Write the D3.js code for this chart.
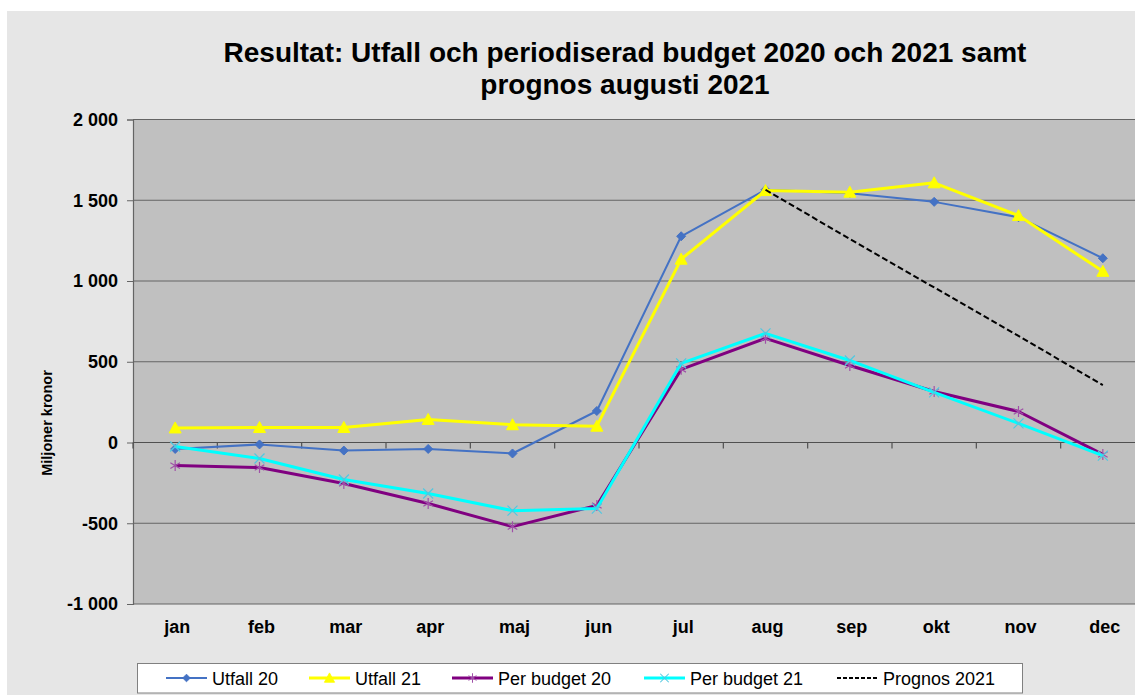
<!DOCTYPE html>
<html>
<head>
    <meta charset="utf-8">
    <title>Resultat: Utfall och periodiserad budget</title>
    <script src="https://d3js.org/d3.v7.min.js"></script>
    <style>
        body { margin: 0; background: #ffffff; }
        svg { display: block; font-family: "Liberation Sans", Arial, sans-serif; }
        .chart-title { font-size: 28px; font-weight: bold; text-anchor: middle; fill: #000; }
        .tick-label { font-size: 18px; font-weight: bold; fill: #000; }
        .axis-title { font-size: 14.5px; font-weight: bold; text-anchor: middle; fill: #000; }
        .legend-text { font-size: 18px; fill: #000; }
    </style>
</head>
<body>
<div id="chart"></div>
<script>
    // Data (miljoner kronor)
    const months = ["jan", "feb", "mar", "apr", "maj", "jun", "jul", "aug", "sep", "okt", "nov", "dec"];
    const utfall20 = [-40, -12, -50, -40, -68, 195, 1277, 1565, 1544, 1490, 1395, 1141];
    const utfall21 = [90, 93, 93, 143, 110, 101, 1135, 1560, 1550, 1608, 1405, 1060];
    const perBudget20 = [-143, -155, -254, -378, -521, -390, 453, 645, 477, 316, 192, -74];
    const perBudget21 = [-25, -99, -229, -316, -422, -409, 490, 676, 508, 310, 118, -81];
    const prognos21 = [null, null, null, null, null, null, null, 1565, 1260, 960, 660, 355];

    const yTicks = [-1000, -500, 0, 500, 1000, 1500, 2000];
    const yTickLabels = ["-1 000", "-500", "0", "500", "1 000", "1 500", "2 000"];

    const seriesNames = ["Utfall 20", "Utfall 21", "Per budget 20", "Per budget 21", "Prognos 2021"];

    const W = 1135, H = 695;
    const plot = { left: 133, right: 1145, top: 119.5, bottom: 604 };

    const svg = d3.select("#chart").append("svg")
        .attr("width", W)
        .attr("height", H);

    // bakgrund
    svg.append("rect").attr("x", 7).attr("y", 11).attr("width", W - 7).attr("height", H - 11)
        .attr("fill", "#e6e6e6");

    const x = d3.scaleBand().domain(months).range([plot.left, plot.right]);
    const y = d3.scaleLinear().domain([-1000, 2000]).range([plot.bottom, plot.top]);

    // ritytan
    svg.append("rect")
        .attr("x", plot.left).attr("y", plot.top)
        .attr("width", plot.right - plot.left).attr("height", plot.bottom - plot.top)
        .attr("fill", "#c0c0c0");

    // stödlinjer
    svg.append("g").selectAll("line").data(yTicks).join("line")
        .attr("x1", plot.left).attr("x2", plot.right)
        .attr("y1", d => y(d)).attr("y2", d => y(d))
        .attr("stroke", "#646464").attr("stroke-width", 1.2);

    // y-axel
    const yAxis = svg.append("g")
        .attr("transform", `translate(${plot.left},0)`)
        .call(d3.axisLeft(y).tickValues(yTicks).tickSize(6).tickPadding(9)
            .tickFormat((d, i) => yTickLabels[i]));
    yAxis.select(".domain").attr("stroke", "#646464").attr("stroke-width", 1.2);
    yAxis.selectAll(".tick line").attr("stroke", "#646464");
    yAxis.selectAll(".tick text").attr("class", "tick-label").attr("font-family", null).attr("font-size", null);

    // x-axel vid noll
    const xAxisY = y(0);
    svg.append("g").selectAll("line").data(months.concat(["_end"])).join("line")
        .attr("x1", (d, i) => plot.left + i * x.bandwidth())
        .attr("x2", (d, i) => plot.left + i * x.bandwidth())
        .attr("y1", xAxisY).attr("y2", xAxisY + 6)
        .attr("stroke", "#505050").attr("stroke-width", 1.2);
    svg.append("line")
        .attr("x1", plot.left).attr("x2", plot.right)
        .attr("y1", xAxisY).attr("y2", xAxisY)
        .attr("stroke", "#505050").attr("stroke-width", 1.2);

    svg.append("g").selectAll("text").data(months).join("text")
        .attr("class", "tick-label")
        .attr("x", d => x(d) + x.bandwidth() / 2 + 2)
        .attr("y", 633)
        .attr("text-anchor", "middle")
        .text(d => d);

    // axeltitel
    svg.append("text")
        .attr("class", "axis-title")
        .attr("transform", "translate(52,423) rotate(-90)")
        .text("Miljoner kronor");

    // titel
    svg.append("text").attr("class", "chart-title").attr("x", 625).attr("y", 62)
        .text("Resultat: Utfall och periodiserad budget 2020 och 2021 samt");
    svg.append("text").attr("class", "chart-title").attr("x", 625).attr("y", 94)
        .text("prognos augusti 2021");

    // markörer
    const markers = {
        diamond: "M0,-4.5L4.5,0L0,4.5L-4.5,0Z",
        triangle: "M0,-6L6,5L-6,5Z",
        star: "M0,-5.5L0,5.5M-4.8,-2.8L4.8,2.8M-4.8,2.8L4.8,-2.8",
        cross: "M-5,-5L5,5M-5,5L5,-5"
    };

    const series = [
        { name: seriesNames[0], values: utfall20, color: "#4472c4", width: 2, marker: "diamond", mFill: "#4472c4", mStroke: "#4472c4", mWidth: 1 },
        { name: seriesNames[1], values: utfall21, color: "#ffff00", width: 3, marker: "triangle", mFill: "#ffff00", mStroke: "#ffff00", mWidth: 1 },
        { name: seriesNames[2], values: perBudget20, color: "#800080", width: 3, marker: "star", mFill: "none", mStroke: "#a050a8", mWidth: 1.2 },
        { name: seriesNames[3], values: perBudget21, color: "#00ffff", width: 3, marker: "cross", mFill: "none", mStroke: "#50c8e0", mWidth: 1.2 },
        { name: seriesNames[4], values: prognos21, color: "#000000", width: 2, dash: "6,3", marker: null }
    ];

    const line = d3.line()
        .defined(d => d.v !== null)
        .x(d => x(d.m) + x.bandwidth() / 2)
        .y(d => y(d.v));

    const plotG = svg.append("g");
    series.forEach(s => {
        const pts = months.map((m, i) => ({ m: m, v: s.values[i] }));
        plotG.append("path")
            .datum(pts)
            .attr("d", line)
            .attr("fill", "none")
            .attr("stroke", s.color)
            .attr("stroke-width", s.width)
            .attr("stroke-dasharray", s.dash || null)
            .attr("stroke-linejoin", "round");
        if (s.marker) {
            plotG.append("g").selectAll("path").data(pts.filter(d => d.v !== null)).join("path")
                .attr("transform", d => `translate(${x(d.m) + x.bandwidth() / 2},${y(d.v)})`)
                .attr("d", markers[s.marker])
                .attr("fill", s.mFill)
                .attr("stroke", s.mStroke)
                .attr("stroke-width", s.mWidth);
        }
    });

    // förklaring
    const legend = svg.append("g");
    legend.append("rect")
        .attr("x", 137.5).attr("y", 663.5).attr("width", 885).attr("height", 29.5)
        .attr("fill", "#ffffff").attr("stroke", "#808080").attr("stroke-width", 1);

    const legendX = [166, 309, 452, 644, 837];
    series.forEach((s, i) => {
        const lx = legendX[i];
        const ly = 678;
        legend.append("line")
            .attr("x1", lx).attr("x2", lx + 41).attr("y1", ly).attr("y2", ly)
            .attr("stroke", s.color)
            .attr("stroke-width", s.width)
            .attr("stroke-dasharray", s.dash ? "4,2" : null);
        if (s.marker) {
            legend.append("path")
                .attr("transform", `translate(${lx + 20.5},${ly}) scale(0.85)`)
                .attr("d", markers[s.marker])
                .attr("fill", s.mFill)
                .attr("stroke", s.mStroke)
                .attr("stroke-width", s.mWidth);
        }
        legend.append("text")
            .attr("class", "legend-text")
            .attr("x", lx + 46)
            .attr("y", ly + 6.5)
            .text(s.name);
    });
</script>
</body>
</html>
